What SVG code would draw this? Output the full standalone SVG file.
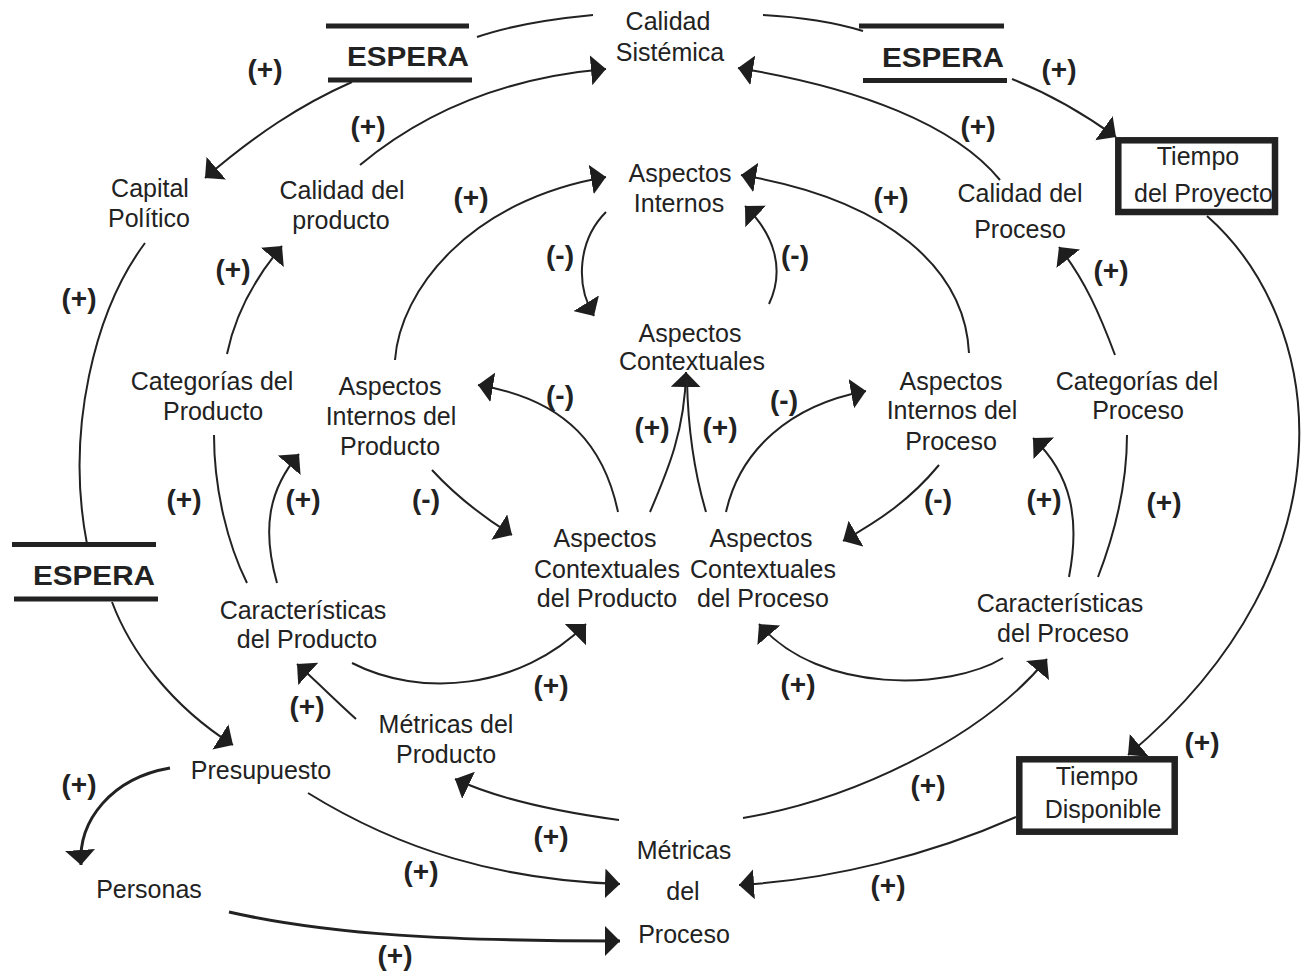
<svg xmlns="http://www.w3.org/2000/svg" width="1306" height="974" viewBox="0 0 1306 974">
  <style>
    .lbl { font-family: "Liberation Sans", Arial, sans-serif; font-size: 25px; fill: #222; text-anchor: middle; }
    .sign { font-family: "Liberation Sans", Arial, sans-serif; font-size: 28px; font-weight: bold; fill: #222; text-anchor: middle; }
    .wait { font-family: "Liberation Sans", Arial, sans-serif; font-size: 27px; font-weight: bold; fill: #222; }
    .bar { stroke: #222; stroke-width: 5; }
    .box { fill: none; stroke: #222; stroke-width: 6.5; }
    .edge { fill: none; stroke: #222; stroke-width: 2; }
    .edge.heavy { stroke-width: 3; }
    .arrow { marker-end: url(#ah); }
  </style>
  <defs>
    <marker id="ah" viewBox="0 0 15 30" refX="15" refY="15" markerWidth="15" markerHeight="30" orient="auto" markerUnits="userSpaceOnUse">
      <path d="M0,0 L15,15 L0,30 Z" fill="#1e1e1e"/>
    </marker>
  </defs>
  <rect width="1306" height="974" fill="#fff"/>

  <!-- connectors -->
  <g id="connectors">
    <path class="edge" d="M477,37 Q520,22 593,15"/>
    <path class="edge" d="M763,15 Q820,18 863,31"/>
    <path class="edge arrow" d="M352,82 C300,105 255,135 205,178"/>
    <path class="edge arrow" d="M360,165 C420,115 500,78 606,69"/>
    <path class="edge arrow" d="M1012,79 Q1065,100 1116,137"/>
    <path class="edge arrow" d="M1000,180 C955,125 860,88 738,68"/>
    <path class="edge arrow" d="M1207,216 C1325,320 1360,560 1128,755"/>
    <path class="edge arrow" d="M1016,817 C930,855 830,880 739,885"/>
    <path class="edge" d="M145,243 C95,310 65,430 87,544"/>
    <path class="edge arrow" d="M112,602 C130,650 170,705 233,745"/>
    <path class="edge arrow" d="M227,354 C235,315 255,278 282,246"/>
    <path class="edge arrow" d="M395,360 C400,290 470,200 606,177"/>
    <path class="edge arrow" d="M969,353 C965,270 890,200 741,175"/>
    <path class="edge arrow" d="M606,212 C578,240 575,285 594,316"/>
    <path class="edge arrow" d="M769,304 C785,270 775,235 745,206"/>
    <path class="edge arrow" d="M618,512 C605,450 570,400 478,385"/>
    <path class="edge arrow" d="M650,512 C668,470 685,430 686,372"/>
    <path class="edge" d="M706,512 C695,475 688,430 687,380"/>
    <path class="edge arrow" d="M726,512 C740,450 790,405 866,391"/>
    <path class="edge arrow" d="M432,470 C455,495 480,515 512,535"/>
    <path class="edge arrow" d="M939,465 C910,500 880,520 843,541"/>
    <path class="edge" d="M214,435 C214,490 228,545 247,583"/>
    <path class="edge arrow" d="M277,583 C262,530 268,490 299,454"/>
    <path class="edge arrow" d="M352,663 C420,698 520,690 586,624"/>
    <path class="edge arrow" d="M356,719 C335,700 315,680 297,664"/>
    <path class="edge arrow" d="M619,820 C560,812 500,800 455,779"/>
    <path class="edge arrow" d="M743,818 C850,800 980,740 1047,659"/>
    <path class="edge arrow" d="M1003,658 C950,690 820,695 759,624"/>
    <path class="edge arrow" d="M1069,577 C1080,520 1072,475 1033,438"/>
    <path class="edge" d="M1098,577 C1118,525 1127,480 1127,435"/>
    <path class="edge arrow" d="M1115,355 C1100,315 1085,280 1059,247"/>
    <path class="edge heavy arrow" d="M170,768 C112,778 78,820 81,865"/>
    <path class="edge arrow" d="M308,793 C400,850 500,880 620,884"/>
    <path class="edge heavy arrow" d="M229,912 C330,935 450,941 620,941"/>
  </g>

  <!-- polarity signs -->
  <g id="signs">
    <text class="sign" x="265" y="79">(+)</text>
    <text class="sign" x="368" y="136">(+)</text>
    <text class="sign" x="1059" y="79">(+)</text>
    <text class="sign" x="978" y="136">(+)</text>
    <text class="sign" x="471" y="207">(+)</text>
    <text class="sign" x="891" y="207">(+)</text>
    <text class="sign" x="233" y="279">(+)</text>
    <text class="sign" x="1111" y="280">(+)</text>
    <text class="sign" x="79" y="308">(+)</text>
    <text class="sign" x="560" y="265">(-)</text>
    <text class="sign" x="795" y="265">(-)</text>
    <text class="sign" x="560" y="405">(-)</text>
    <text class="sign" x="784" y="410">(-)</text>
    <text class="sign" x="652" y="437">(+)</text>
    <text class="sign" x="720" y="437">(+)</text>
    <text class="sign" x="184" y="509">(+)</text>
    <text class="sign" x="303" y="509">(+)</text>
    <text class="sign" x="426" y="509">(-)</text>
    <text class="sign" x="938" y="509">(-)</text>
    <text class="sign" x="1044" y="509">(+)</text>
    <text class="sign" x="1164" y="512">(+)</text>
    <text class="sign" x="551" y="695">(+)</text>
    <text class="sign" x="798" y="694">(+)</text>
    <text class="sign" x="307" y="716">(+)</text>
    <text class="sign" x="1202" y="752">(+)</text>
    <text class="sign" x="79" y="794">(+)</text>
    <text class="sign" x="928" y="795">(+)</text>
    <text class="sign" x="551" y="846">(+)</text>
    <text class="sign" x="421" y="881">(+)</text>
    <text class="sign" x="888" y="895">(+)</text>
    <text class="sign" x="395" y="965">(+)</text>
  </g>

  <!-- delays -->
  <g id="espera-left">
    <line class="bar" x1="326" y1="26" x2="469" y2="26"/>
    <text class="wait" x="347" y="66" textLength="122" lengthAdjust="spacingAndGlyphs">ESPERA</text>
    <line class="bar" x1="328" y1="80" x2="472" y2="80"/>
  </g>
  <g id="espera-right">
    <line class="bar" x1="859" y1="26" x2="1004" y2="26"/>
    <text class="wait" x="882" y="67" textLength="122" lengthAdjust="spacingAndGlyphs">ESPERA</text>
    <line class="bar" x1="863" y1="80.5" x2="1007" y2="80.5"/>
  </g>
  <g id="espera-bottom">
    <line class="bar" x1="12" y1="544.5" x2="156" y2="544.5"/>
    <text class="wait" x="33" y="585" textLength="122" lengthAdjust="spacingAndGlyphs">ESPERA</text>
    <line class="bar" x1="14" y1="599" x2="158" y2="599"/>
  </g>

  <!-- variables -->
  <g id="calidad-sistemica">
    <text class="lbl" x="668" y="30">Calidad</text>
    <text class="lbl" x="670" y="61">Sistémica</text>
  </g>
  <g id="capital-politico">
    <text class="lbl" x="150" y="197">Capital</text>
    <text class="lbl" x="149" y="227">Político</text>
  </g>
  <g id="calidad-producto">
    <text class="lbl" x="342" y="199">Calidad del</text>
    <text class="lbl" x="341" y="229">producto</text>
  </g>
  <g id="aspectos-internos">
    <text class="lbl" x="680" y="182">Aspectos</text>
    <text class="lbl" x="679" y="212">Internos</text>
  </g>
  <g id="calidad-proceso">
    <text class="lbl" x="1020" y="202">Calidad del</text>
    <text class="lbl" x="1020" y="238">Proceso</text>
  </g>
  <g id="tiempo-proyecto">
    <text class="lbl" x="1198" y="165">Tiempo</text>
    <text class="lbl" x="1134" y="202" style="text-anchor:start">del Proyecto</text>
    <rect class="box" x="1118.3" y="140.3" width="156.7" height="71.7"/>
  </g>
  <g id="aspectos-contextuales">
    <text class="lbl" x="690" y="342">Aspectos</text>
    <text class="lbl" x="692" y="370">Contextuales</text>
  </g>
  <g id="categorias-producto">
    <text class="lbl" x="212" y="390">Categorías del</text>
    <text class="lbl" x="213" y="420">Producto</text>
  </g>
  <g id="aspectos-internos-producto">
    <text class="lbl" x="390" y="395">Aspectos</text>
    <text class="lbl" x="391" y="425">Internos del</text>
    <text class="lbl" x="390" y="455">Producto</text>
  </g>
  <g id="aspectos-internos-proceso">
    <text class="lbl" x="951" y="390">Aspectos</text>
    <text class="lbl" x="952" y="419">Internos del</text>
    <text class="lbl" x="951" y="450">Proceso</text>
  </g>
  <g id="categorias-proceso">
    <text class="lbl" x="1137" y="390">Categorías del</text>
    <text class="lbl" x="1138" y="419">Proceso</text>
  </g>
  <g id="aspectos-contextuales-producto">
    <text class="lbl" x="605" y="547">Aspectos</text>
    <text class="lbl" x="607" y="578">Contextuales</text>
    <text class="lbl" x="607" y="607">del Producto</text>
  </g>
  <g id="aspectos-contextuales-proceso">
    <text class="lbl" x="761" y="547">Aspectos</text>
    <text class="lbl" x="763" y="578">Contextuales</text>
    <text class="lbl" x="763" y="607">del Proceso</text>
  </g>
  <g id="caracteristicas-producto">
    <text class="lbl" x="303" y="619">Características</text>
    <text class="lbl" x="307" y="648">del Producto</text>
  </g>
  <g id="caracteristicas-proceso">
    <text class="lbl" x="1060" y="612">Características</text>
    <text class="lbl" x="1063" y="642">del Proceso</text>
  </g>
  <g id="metricas-producto">
    <text class="lbl" x="446" y="733">Métricas del</text>
    <text class="lbl" x="446" y="763">Producto</text>
  </g>
  <g id="presupuesto">
    <text class="lbl" x="261" y="779">Presupuesto</text>
  </g>
  <g id="personas">
    <text class="lbl" x="149" y="898">Personas</text>
  </g>
  <g id="metricas-proceso">
    <text class="lbl" x="684" y="859">Métricas</text>
    <text class="lbl" x="683" y="900">del</text>
    <text class="lbl" x="684" y="943">Proceso</text>
  </g>
  <g id="tiempo-disponible">
    <rect class="box" x="1019.3" y="759.3" width="155.4" height="72.4"/>
    <text class="lbl" x="1097" y="785">Tiempo</text>
    <text class="lbl" x="1103" y="818">Disponible</text>
  </g>
</svg>
